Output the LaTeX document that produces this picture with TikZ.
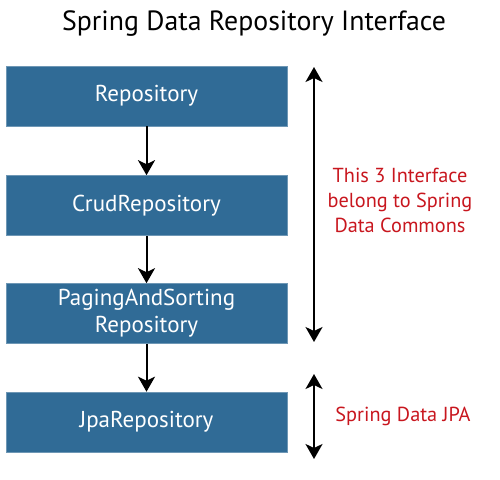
\documentclass[tikz,border=0pt]{standalone}
\usepackage{fontspec}
\setmainfont{PT Sans}
\usetikzlibrary{arrows.meta}
\definecolor{repoblue}{RGB}{48,107,150}
\definecolor{notered}{RGB}{200,22,30}
\begin{document}
\begin{tikzpicture}[
      x=1pt, y=-1pt,
      box/.style={rectangle, fill=repoblue, draw=repoblue!70!white, line width=0.6pt,
                  minimum height=60pt, minimum width=281pt,
                  align=center, inner sep=2pt, text=white,
                  font=\fontsize{23}{27}\selectfont},
      note/.style={align=center, text=notered,
                   font=\fontsize{20.3}{25}\selectfont},
      arr/.style={-{Stealth[length=15pt, width=17pt, inset=4pt]}, line width=2pt},
      dbl/.style={{Stealth[length=15pt, width=17pt, inset=4pt]}-{Stealth[length=15pt, width=17pt, inset=4pt]}, line width=2pt},
    ]
    \useasboundingbox (0,0) rectangle (500,479);

    % Title
    \node[font=\fontsize{27.8}{30}\selectfont] (title) at (254,24) {Spring Data Repository Interface};

    % Interface boxes
    \node[box] (repo)  at (146.5,96)    {Repository};
    \node[box] (crud)  at (146.5,205.5) {CrudRepository};
    \node[box] (page)  at (146.5,313.5) {PagingAndSorting\\Repository};
    \node[box] (jpa)   at (146.5,422)   {JpaRepository};

    % Arrows between boxes
    \draw[arr] (repo) -- (crud);
    \draw[arr] (crud) -- (page);
    \draw[arr] (page) -- (jpa);

    % Range markers
    \coordinate (ctop) at (314,67);
    \coordinate (cbot) at (314,342);
    \coordinate (jtop) at (314,374);
    \coordinate (jbot) at (314,459);
    \draw[dbl] (ctop) -- (cbot);
    \draw[dbl] (jtop) -- (jbot);

    % Notes
    \node[note] (commons) at (400,200) {This 3 Interface\\belong to Spring\\Data Commons};
    \node[note] (jpanote) at (403,416) {Spring Data JPA};

    \end{tikzpicture}
\end{document}
